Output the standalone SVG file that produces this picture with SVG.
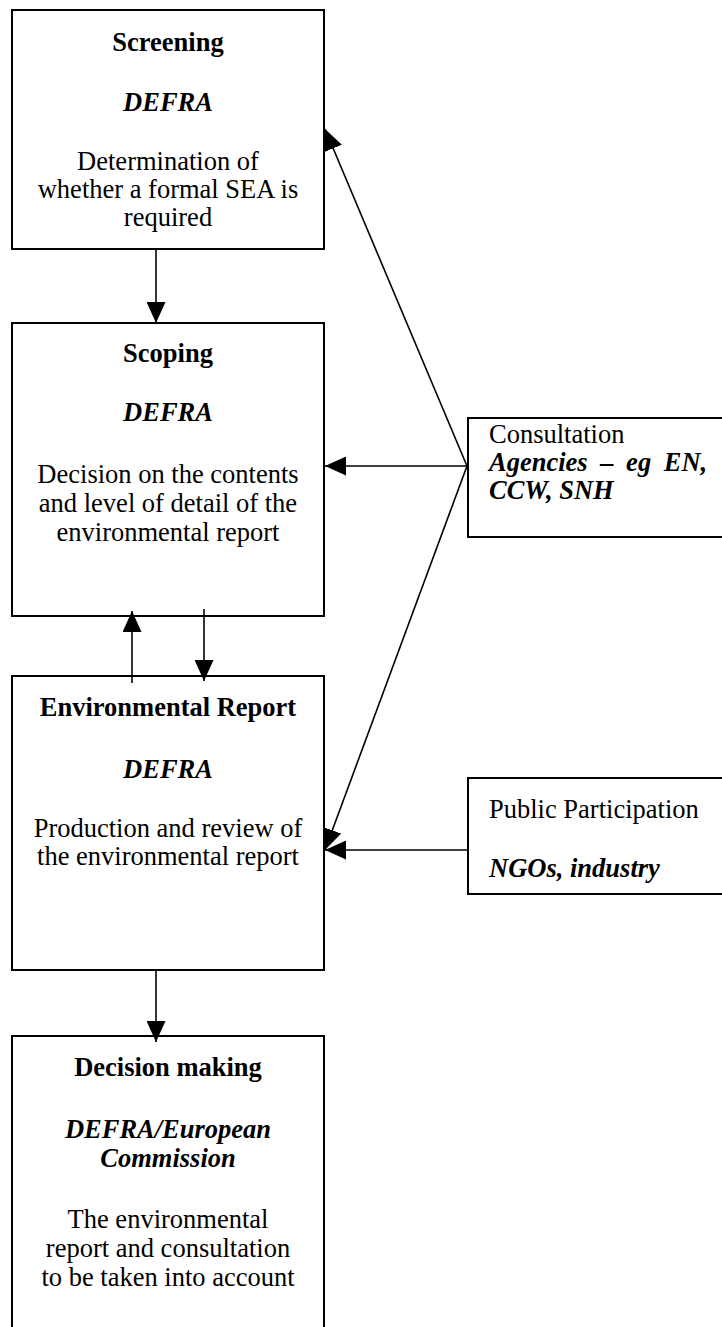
<svg xmlns="http://www.w3.org/2000/svg" width="722" height="1327" viewBox="0 0 722 1327">
<style>
.box{fill:#fff;stroke:#000;stroke-width:2}
text{font-family:"Liberation Serif","Times New Roman",serif;font-size:26.5px;fill:#000}
.c{text-anchor:middle}
.b{font-weight:bold}
.i{font-style:italic}
.con line{stroke:#000;stroke-width:1.6}
</style>
<defs>
<marker id="ah" markerUnits="userSpaceOnUse" markerWidth="21" markerHeight="19" refX="21" refY="9.5" orient="auto" viewBox="0 0 21 19">
<path d="M0,0 L21,9.5 L0,19 z" fill="#000"/>
</marker>
</defs>
<g id="screening">
<rect class="box" x="12" y="10" width="312" height="239"/>
<text class="c b" x="168" y="51">Screening</text>
<text class="c b i" x="168" y="111">DEFRA</text>
<text class="c" x="168" y="170">Determination of</text>
<text class="c" x="168" y="198">whether a formal SEA is</text>
<text class="c" x="168" y="226">required</text>
</g>
<g id="scoping">
<rect class="box" x="12" y="323" width="312" height="293"/>
<text class="c b" x="168" y="362">Scoping</text>
<text class="c b i" x="168" y="421">DEFRA</text>
<text class="c" x="168" y="483">Decision on the contents</text>
<text class="c" x="168" y="512">and level of detail of the</text>
<text class="c" x="168" y="541">environmental report</text>
</g>
<g id="env-report">
<rect class="box" x="12" y="676" width="312" height="294"/>
<text class="c b" x="168" y="716">Environmental Report</text>
<text class="c b i" x="168" y="778">DEFRA</text>
<text class="c" x="168" y="837">Production and review of</text>
<text class="c" x="168" y="865">the environmental report</text>
</g>
<g id="decision">
<rect class="box" x="12" y="1036" width="312" height="300"/>
<text class="c b" x="168" y="1076">Decision making</text>
<text class="c b i" x="168" y="1138">DEFRA/European</text>
<text class="c b i" x="168" y="1167">Commission</text>
<text class="c" x="168" y="1228">The environmental</text>
<text class="c" x="168" y="1257">report and consultation</text>
<text class="c" x="168" y="1286">to be taken into account</text>
</g>
<g id="consultation">
<rect class="box" x="468" y="418" width="260" height="119"/>
<text x="489" y="443">Consultation</text>
<text class="b i" x="489" y="471" word-spacing="6">Agencies – eg EN,</text>
<text class="b i" x="489" y="499">CCW, SNH</text>
</g>
<g id="public">
<rect class="box" x="468" y="778" width="260" height="116"/>
<text x="489" y="818">Public Participation</text>
<text class="b i" x="489" y="877">NGOs, industry</text>
</g>
<g id="connectors" class="con">
<line x1="156" y1="249" x2="156" y2="323" marker-end="url(#ah)"/>
<line x1="132" y1="683" x2="132" y2="611" marker-end="url(#ah)"/>
<line x1="204" y1="609" x2="204" y2="681" marker-end="url(#ah)"/>
<line x1="156" y1="970" x2="156" y2="1042" marker-end="url(#ah)"/>
<line x1="467" y1="466" x2="325" y2="466" marker-end="url(#ah)"/>
<line x1="467" y1="466" x2="325" y2="129" marker-end="url(#ah)"/>
<line x1="467" y1="466" x2="325" y2="850" marker-end="url(#ah)"/>
<line x1="468" y1="850" x2="325" y2="850" marker-end="url(#ah)"/>
</g>
</svg>
